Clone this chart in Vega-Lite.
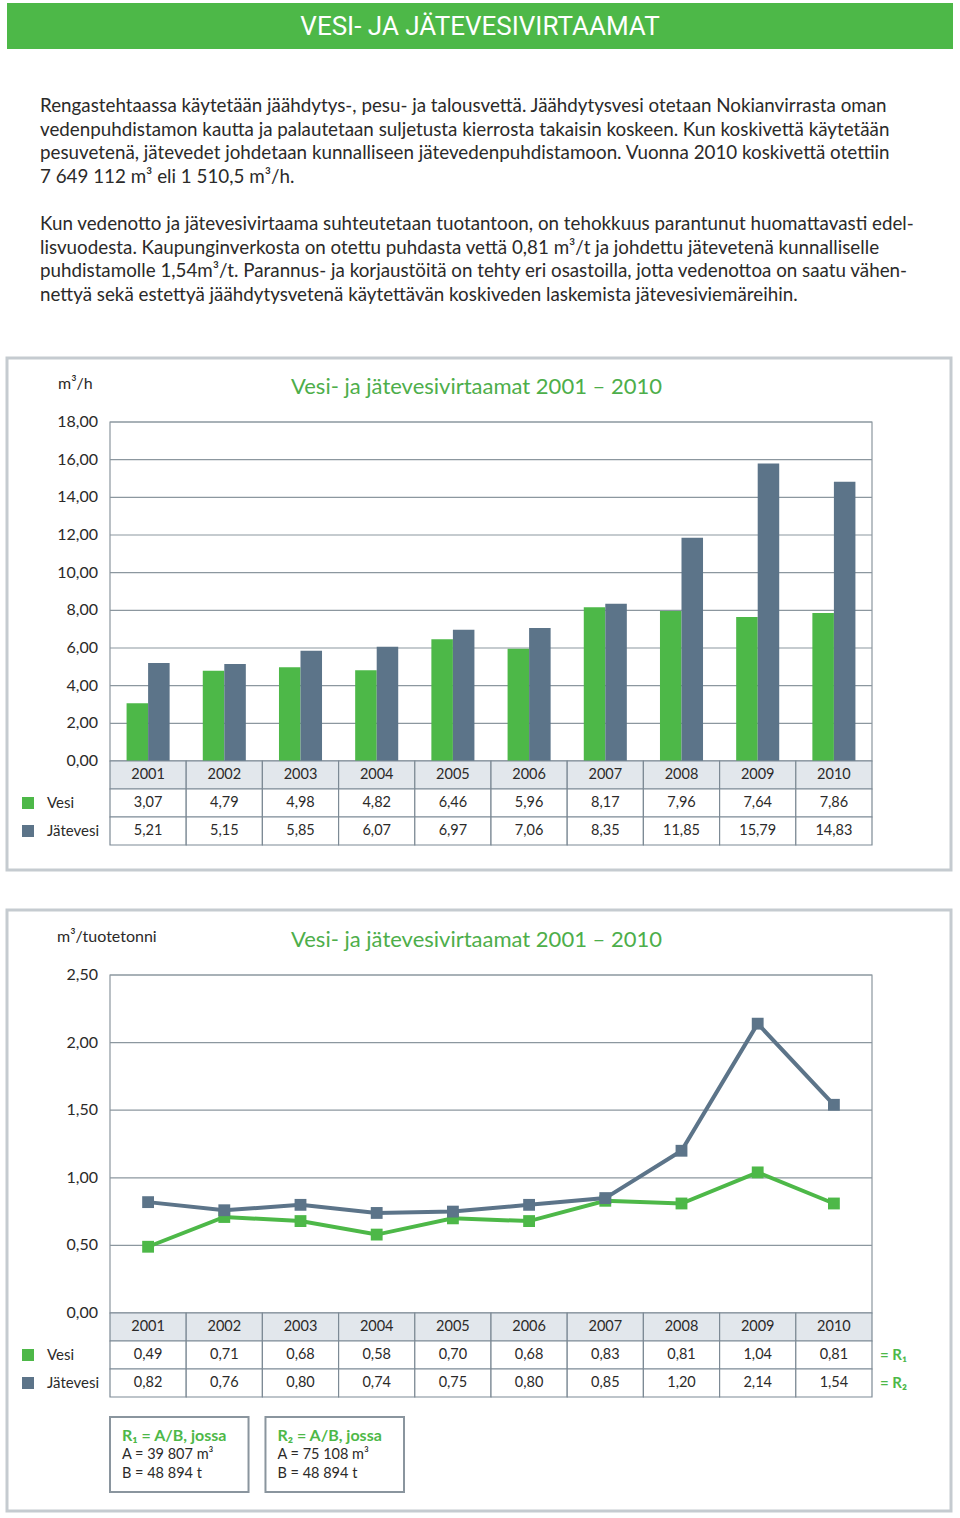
{
  "$schema": "https://vega.github.io/schema/vega-lite/v6.json",
  "padding": {"left": 5, "top": 3, "right": 0, "bottom": 0},
  "spacing": 40,
  "bounds": "flush",
  "config": {
    "view": {"stroke": null},
    "font": "Lato",
    "text": {"color": "#2b2a29", "font": "Lato"},
    "locale": {"number": {"decimal": ",", "thousands": "\u00a0", "grouping": [3], "currency": ["", " €"]}}
  },
  "datasets": {
    "paragraph": [
      {"row": 0, "line": "Rengastehtaassa käytetään jäähdytys-, pesu- ja talousvettä. Jäähdytysvesi otetaan Nokianvirrasta oman"},
      {"row": 1, "line": "vedenpuhdistamon kautta ja palautetaan suljetusta kierrosta takaisin koskeen. Kun koskivettä käytetään"},
      {"row": 2, "line": "pesuvetenä, jätevedet johdetaan kunnalliseen jätevedenpuhdistamoon. Vuonna 2010 koskivettä otettiin"},
      {"row": 3, "line": "7 649 112 m³ eli 1 510,5 m³/h."},
      {"row": 5, "line": "Kun vedenotto ja jätevesivirtaama suhteutetaan tuotantoon, on tehokkuus parantunut huomattavasti edel-"},
      {"row": 6, "line": "lisvuodesta. Kaupunginverkosta on otettu puhdasta vettä 0,81 m³/t ja johdettu jätevetenä kunnalliselle"},
      {"row": 7, "line": "puhdistamolle 1,54m³/t. Parannus- ja korjaustöitä on tehty eri osastoilla, jotta vedenottoa on saatu vähen-"},
      {"row": 8, "line": "nettyä sekä estettyä jäähdytysvetenä käytettävän koskiveden laskemista jätevesiviemäreihin."}
    ],
    "years": [
      {"year": "2001"}, {"year": "2002"}, {"year": "2003"}, {"year": "2004"}, {"year": "2005"},
      {"year": "2006"}, {"year": "2007"}, {"year": "2008"}, {"year": "2009"}, {"year": "2010"}
    ],
    "flow": [
      {"year": "2001", "series": "Vesi", "value": 3.07},
      {"year": "2002", "series": "Vesi", "value": 4.79},
      {"year": "2003", "series": "Vesi", "value": 4.98},
      {"year": "2004", "series": "Vesi", "value": 4.82},
      {"year": "2005", "series": "Vesi", "value": 6.46},
      {"year": "2006", "series": "Vesi", "value": 5.96},
      {"year": "2007", "series": "Vesi", "value": 8.17},
      {"year": "2008", "series": "Vesi", "value": 7.96},
      {"year": "2009", "series": "Vesi", "value": 7.64},
      {"year": "2010", "series": "Vesi", "value": 7.86},
      {"year": "2001", "series": "Jätevesi", "value": 5.21},
      {"year": "2002", "series": "Jätevesi", "value": 5.15},
      {"year": "2003", "series": "Jätevesi", "value": 5.85},
      {"year": "2004", "series": "Jätevesi", "value": 6.07},
      {"year": "2005", "series": "Jätevesi", "value": 6.97},
      {"year": "2006", "series": "Jätevesi", "value": 7.06},
      {"year": "2007", "series": "Jätevesi", "value": 8.35},
      {"year": "2008", "series": "Jätevesi", "value": 11.85},
      {"year": "2009", "series": "Jätevesi", "value": 15.79},
      {"year": "2010", "series": "Jätevesi", "value": 14.83}
    ],
    "ratio": [
      {"year": "2001", "series": "Vesi", "value": 0.49},
      {"year": "2002", "series": "Vesi", "value": 0.71},
      {"year": "2003", "series": "Vesi", "value": 0.68},
      {"year": "2004", "series": "Vesi", "value": 0.58},
      {"year": "2005", "series": "Vesi", "value": 0.70},
      {"year": "2006", "series": "Vesi", "value": 0.68},
      {"year": "2007", "series": "Vesi", "value": 0.83},
      {"year": "2008", "series": "Vesi", "value": 0.81},
      {"year": "2009", "series": "Vesi", "value": 1.04},
      {"year": "2010", "series": "Vesi", "value": 0.81},
      {"year": "2001", "series": "Jätevesi", "value": 0.82},
      {"year": "2002", "series": "Jätevesi", "value": 0.76},
      {"year": "2003", "series": "Jätevesi", "value": 0.80},
      {"year": "2004", "series": "Jätevesi", "value": 0.74},
      {"year": "2005", "series": "Jätevesi", "value": 0.75},
      {"year": "2006", "series": "Jätevesi", "value": 0.80},
      {"year": "2007", "series": "Jätevesi", "value": 0.85},
      {"year": "2008", "series": "Jätevesi", "value": 1.20},
      {"year": "2009", "series": "Jätevesi", "value": 2.14},
      {"year": "2010", "series": "Jätevesi", "value": 1.54}
    ],
    "ticks1": [{"t": 0}, {"t": 2}, {"t": 4}, {"t": 6}, {"t": 8}, {"t": 10}, {"t": 12}, {"t": 14}, {"t": 16}, {"t": 18}],
    "ticks2": [{"t": 0}, {"t": 0.5}, {"t": 1}, {"t": 1.5}, {"t": 2}, {"t": 2.5}],
    "legend": [{"series": "Vesi", "ratio": "= R₁"}, {"series": "Jätevesi", "ratio": "= R₂"}],
    "formula": [
      {"id": "R1", "head": "R₁ = A/B, jossa", "a": "A = 39 807 m³", "b": "B = 48 894 t"},
      {"id": "R2", "head": "R₂ = A/B, jossa", "a": "A = 75 108 m³", "b": "B = 48 894 t"}
    ]
  },
  "vconcat": [
    {
      "width": 946,
      "height": 46,
      "view": {"fill": "#4db848", "stroke": null},
      "data": {"values": [{"title": "VESI- JA JÄTEVESIVIRTAAMAT"}]},
      "mark": {"type": "text", "color": "white", "fontSize": 26, "font": "Roboto", "align": "center", "baseline": "middle"},
      "encoding": {"text": {"field": "title"}, "x": {"value": 473}, "y": {"value": 24}}
    },
    {
      "width": 946,
      "height": 229,
      "data": {"name": "paragraph"},
      "mark": {"type": "text", "align": "left", "baseline": "middle", "fontSize": 18.8},
      "encoding": {
        "y": {"field": "row", "type": "quantitative", "scale": {"domain": [0, 8], "range": [17, 206], "nice": false, "zero": false}, "axis": null},
        "x": {"value": 33},
        "text": {"field": "line"}
      }
    },
    {
      "width": 944,
      "height": 512,
      "view": {"stroke": "#c5cbd0", "strokeWidth": 3},
      "resolve": {"scale": {"x": "independent", "y": "independent"}},
      "layer": [
        {
          "data": {"name": "ticks1"},
          "mark": {"type": "rule", "color": "#8c979f", "strokeWidth": 1.2},
          "encoding": {
            "y": {"field": "t", "type": "quantitative", "scale": {"domain": [0, 18], "range": [403, 64], "nice": false, "zero": false}, "axis": null},
            "x": {"value": 103}, "x2": {"value": 865}
          }
        },
        {
          "data": {"values": [{}]},
          "mark": {"type": "rect", "fillOpacity": 0, "stroke": "#8c979f", "strokeWidth": 1.2},
          "encoding": {"x": {"value": 103}, "x2": {"value": 865}, "y": {"value": 64}, "y2": {"value": 403}}
        },
        {
          "data": {"name": "ticks1"},
          "mark": {"type": "text", "align": "right", "baseline": "middle", "fontSize": 16},
          "encoding": {
            "y": {"field": "t", "type": "quantitative", "scale": {"domain": [0, 18], "range": [403, 64], "nice": false, "zero": false}, "axis": null},
            "x": {"value": 91},
            "text": {"field": "t", "type": "quantitative", "format": ".2f"}
          }
        },
        {
          "data": {"name": "flow"},
          "mark": {"type": "bar"},
          "encoding": {
            "x": {"field": "year", "type": "nominal", "scale": {"type": "band", "domain": ["2001","2002","2003","2004","2005","2006","2007","2008","2009","2010"], "range": [103, 865], "paddingInner": 0, "paddingOuter": 0}, "axis": null},
            "xOffset": {"field": "series", "type": "nominal", "scale": {"domain": ["Vesi", "Jätevesi"], "paddingInner": 0, "paddingOuter": 0.77}},
            "y": {"field": "value", "type": "quantitative", "scale": {"domain": [0, 18], "range": [403, 64], "nice": false, "zero": false}, "axis": null},
            "color": {"field": "series", "type": "nominal", "scale": {"domain": ["Vesi", "Jätevesi"], "range": ["#4db848", "#5c7489"]}, "legend": null}
          }
        },
        {
          "data": {"name": "years"},
          "mark": {"type": "rect", "fill": "#e2e7ec", "stroke": "#7d8a95", "strokeWidth": 1.2},
          "encoding": {
            "x": {"field": "year", "type": "nominal", "scale": {"type": "band", "domain": ["2001","2002","2003","2004","2005","2006","2007","2008","2009","2010"], "range": [103, 865], "paddingInner": 0, "paddingOuter": 0}, "axis": null},
            "y": {"datum": "hdr", "type": "nominal", "scale": {"type": "band", "domain": ["hdr", "Vesi", "Jätevesi"], "range": [403, 487], "paddingInner": 0, "paddingOuter": 0}, "axis": null}
          }
        },
        {
          "data": {"name": "flow"},
          "mark": {"type": "rect", "fill": "white", "stroke": "#7d8a95", "strokeWidth": 1.2},
          "encoding": {
            "x": {"field": "year", "type": "nominal", "scale": {"type": "band", "domain": ["2001","2002","2003","2004","2005","2006","2007","2008","2009","2010"], "range": [103, 865], "paddingInner": 0, "paddingOuter": 0}, "axis": null},
            "y": {"field": "series", "type": "nominal", "scale": {"type": "band", "domain": ["hdr", "Vesi", "Jätevesi"], "range": [403, 487], "paddingInner": 0, "paddingOuter": 0}, "axis": null}
          }
        },
        {
          "data": {"name": "years"},
          "mark": {"type": "text", "align": "center", "baseline": "middle", "fontSize": 14.5},
          "encoding": {
            "x": {"field": "year", "type": "nominal", "scale": {"type": "band", "domain": ["2001","2002","2003","2004","2005","2006","2007","2008","2009","2010"], "range": [103, 865], "paddingInner": 0, "paddingOuter": 0}, "axis": null},
            "y": {"datum": "hdr", "type": "nominal", "scale": {"type": "band", "domain": ["hdr", "Vesi", "Jätevesi"], "range": [403, 487], "paddingInner": 0, "paddingOuter": 0}, "axis": null},
            "text": {"field": "year"}
          }
        },
        {
          "data": {"name": "flow"},
          "mark": {"type": "text", "align": "center", "baseline": "middle", "fontSize": 14.5},
          "encoding": {
            "x": {"field": "year", "type": "nominal", "scale": {"type": "band", "domain": ["2001","2002","2003","2004","2005","2006","2007","2008","2009","2010"], "range": [103, 865], "paddingInner": 0, "paddingOuter": 0}, "axis": null},
            "y": {"field": "series", "type": "nominal", "scale": {"type": "band", "domain": ["hdr", "Vesi", "Jätevesi"], "range": [403, 487], "paddingInner": 0, "paddingOuter": 0}, "axis": null},
            "text": {"field": "value", "type": "quantitative", "format": ".2f"}
          }
        },
        {
          "data": {"name": "legend"},
          "mark": {"type": "point", "shape": "square", "filled": true, "size": 144, "opacity": 1},
          "encoding": {
            "x": {"value": 21},
            "y": {"field": "series", "type": "nominal", "scale": {"type": "band", "domain": ["hdr", "Vesi", "Jätevesi"], "range": [403, 487], "paddingInner": 0, "paddingOuter": 0}, "axis": null},
            "color": {"field": "series", "type": "nominal", "scale": {"domain": ["Vesi", "Jätevesi"], "range": ["#4db848", "#5c7489"]}, "legend": null}
          }
        },
        {
          "data": {"name": "legend"},
          "mark": {"type": "text", "align": "left", "baseline": "middle", "fontSize": 15},
          "encoding": {
            "x": {"value": 40},
            "y": {"field": "series", "type": "nominal", "scale": {"type": "band", "domain": ["hdr", "Vesi", "Jätevesi"], "range": [403, 487], "paddingInner": 0, "paddingOuter": 0}, "axis": null},
            "text": {"field": "series"}
          }
        },
        {
          "data": {"values": [{"label": "m³/h"}]},
          "mark": {"type": "text", "align": "left", "baseline": "middle", "fontSize": 16},
          "encoding": {"x": {"value": 51}, "y": {"value": 26}, "text": {"field": "label"}}
        },
        {
          "data": {"values": [{"label": "Vesi- ja jätevesivirtaamat 2001 – 2010"}]},
          "mark": {"type": "text", "align": "left", "baseline": "middle", "fontSize": 22, "color": "#4dae4a"},
          "encoding": {"x": {"value": 284}, "y": {"value": 29}, "text": {"field": "label"}}
        }
      ]
    },
    {
      "width": 944,
      "height": 601,
      "view": {"stroke": "#c5cbd0", "strokeWidth": 3},
      "resolve": {"scale": {"x": "independent", "y": "independent"}},
      "layer": [
        {
          "data": {"name": "ticks2"},
          "mark": {"type": "rule", "color": "#8c979f", "strokeWidth": 1.2},
          "encoding": {
            "y": {"field": "t", "type": "quantitative", "scale": {"domain": [0, 2.5], "range": [403, 65], "nice": false, "zero": false}, "axis": null},
            "x": {"value": 103}, "x2": {"value": 865}
          }
        },
        {
          "data": {"values": [{}]},
          "mark": {"type": "rect", "fillOpacity": 0, "stroke": "#8c979f", "strokeWidth": 1.2},
          "encoding": {"x": {"value": 103}, "x2": {"value": 865}, "y": {"value": 65}, "y2": {"value": 403}}
        },
        {
          "data": {"name": "ticks2"},
          "mark": {"type": "text", "align": "right", "baseline": "middle", "fontSize": 16},
          "encoding": {
            "y": {"field": "t", "type": "quantitative", "scale": {"domain": [0, 2.5], "range": [403, 65], "nice": false, "zero": false}, "axis": null},
            "x": {"value": 91},
            "text": {"field": "t", "type": "quantitative", "format": ".2f"}
          }
        },
        {
          "data": {"name": "ratio"},
          "transform": [{"filter": "datum.series === 'Vesi'"}],
          "mark": {"type": "line", "strokeWidth": 4},
          "encoding": {
            "x": {"field": "year", "type": "nominal", "scale": {"type": "band", "domain": ["2001","2002","2003","2004","2005","2006","2007","2008","2009","2010"], "range": [103, 865], "paddingInner": 0, "paddingOuter": 0}, "axis": null},
            "y": {"field": "value", "type": "quantitative", "scale": {"domain": [0, 2.5], "range": [403, 65], "nice": false, "zero": false}, "axis": null},
            "color": {"field": "series", "type": "nominal", "scale": {"domain": ["Vesi", "Jätevesi"], "range": ["#4db848", "#5c7489"]}, "legend": null}
          }
        },
        {
          "data": {"name": "ratio"},
          "transform": [{"filter": "datum.series === 'Vesi'"}],
          "mark": {"type": "point", "shape": "square", "filled": true, "size": 140, "opacity": 1},
          "encoding": {
            "x": {"field": "year", "type": "nominal", "scale": {"type": "band", "domain": ["2001","2002","2003","2004","2005","2006","2007","2008","2009","2010"], "range": [103, 865], "paddingInner": 0, "paddingOuter": 0}, "axis": null},
            "y": {"field": "value", "type": "quantitative", "scale": {"domain": [0, 2.5], "range": [403, 65], "nice": false, "zero": false}, "axis": null},
            "color": {"field": "series", "type": "nominal", "scale": {"domain": ["Vesi", "Jätevesi"], "range": ["#4db848", "#5c7489"]}, "legend": null}
          }
        },
        {
          "data": {"name": "ratio"},
          "transform": [{"filter": "datum.series === 'Jätevesi'"}],
          "mark": {"type": "line", "strokeWidth": 4},
          "encoding": {
            "x": {"field": "year", "type": "nominal", "scale": {"type": "band", "domain": ["2001","2002","2003","2004","2005","2006","2007","2008","2009","2010"], "range": [103, 865], "paddingInner": 0, "paddingOuter": 0}, "axis": null},
            "y": {"field": "value", "type": "quantitative", "scale": {"domain": [0, 2.5], "range": [403, 65], "nice": false, "zero": false}, "axis": null},
            "color": {"field": "series", "type": "nominal", "scale": {"domain": ["Vesi", "Jätevesi"], "range": ["#4db848", "#5c7489"]}, "legend": null}
          }
        },
        {
          "data": {"name": "ratio"},
          "transform": [{"filter": "datum.series === 'Jätevesi'"}],
          "mark": {"type": "point", "shape": "square", "filled": true, "size": 140, "opacity": 1},
          "encoding": {
            "x": {"field": "year", "type": "nominal", "scale": {"type": "band", "domain": ["2001","2002","2003","2004","2005","2006","2007","2008","2009","2010"], "range": [103, 865], "paddingInner": 0, "paddingOuter": 0}, "axis": null},
            "y": {"field": "value", "type": "quantitative", "scale": {"domain": [0, 2.5], "range": [403, 65], "nice": false, "zero": false}, "axis": null},
            "color": {"field": "series", "type": "nominal", "scale": {"domain": ["Vesi", "Jätevesi"], "range": ["#4db848", "#5c7489"]}, "legend": null}
          }
        },
        {
          "data": {"name": "years"},
          "mark": {"type": "rect", "fill": "#e2e7ec", "stroke": "#7d8a95", "strokeWidth": 1.2},
          "encoding": {
            "x": {"field": "year", "type": "nominal", "scale": {"type": "band", "domain": ["2001","2002","2003","2004","2005","2006","2007","2008","2009","2010"], "range": [103, 865], "paddingInner": 0, "paddingOuter": 0}, "axis": null},
            "y": {"datum": "hdr", "type": "nominal", "scale": {"type": "band", "domain": ["hdr", "Vesi", "Jätevesi"], "range": [403, 487], "paddingInner": 0, "paddingOuter": 0}, "axis": null}
          }
        },
        {
          "data": {"name": "ratio"},
          "mark": {"type": "rect", "fill": "white", "stroke": "#7d8a95", "strokeWidth": 1.2},
          "encoding": {
            "x": {"field": "year", "type": "nominal", "scale": {"type": "band", "domain": ["2001","2002","2003","2004","2005","2006","2007","2008","2009","2010"], "range": [103, 865], "paddingInner": 0, "paddingOuter": 0}, "axis": null},
            "y": {"field": "series", "type": "nominal", "scale": {"type": "band", "domain": ["hdr", "Vesi", "Jätevesi"], "range": [403, 487], "paddingInner": 0, "paddingOuter": 0}, "axis": null}
          }
        },
        {
          "data": {"name": "years"},
          "mark": {"type": "text", "align": "center", "baseline": "middle", "fontSize": 14.5},
          "encoding": {
            "x": {"field": "year", "type": "nominal", "scale": {"type": "band", "domain": ["2001","2002","2003","2004","2005","2006","2007","2008","2009","2010"], "range": [103, 865], "paddingInner": 0, "paddingOuter": 0}, "axis": null},
            "y": {"datum": "hdr", "type": "nominal", "scale": {"type": "band", "domain": ["hdr", "Vesi", "Jätevesi"], "range": [403, 487], "paddingInner": 0, "paddingOuter": 0}, "axis": null},
            "text": {"field": "year"}
          }
        },
        {
          "data": {"name": "ratio"},
          "mark": {"type": "text", "align": "center", "baseline": "middle", "fontSize": 14.5},
          "encoding": {
            "x": {"field": "year", "type": "nominal", "scale": {"type": "band", "domain": ["2001","2002","2003","2004","2005","2006","2007","2008","2009","2010"], "range": [103, 865], "paddingInner": 0, "paddingOuter": 0}, "axis": null},
            "y": {"field": "series", "type": "nominal", "scale": {"type": "band", "domain": ["hdr", "Vesi", "Jätevesi"], "range": [403, 487], "paddingInner": 0, "paddingOuter": 0}, "axis": null},
            "text": {"field": "value", "type": "quantitative", "format": ".2f"}
          }
        },
        {
          "data": {"name": "legend"},
          "mark": {"type": "point", "shape": "square", "filled": true, "size": 144, "opacity": 1},
          "encoding": {
            "x": {"value": 21},
            "y": {"field": "series", "type": "nominal", "scale": {"type": "band", "domain": ["hdr", "Vesi", "Jätevesi"], "range": [403, 487], "paddingInner": 0, "paddingOuter": 0}, "axis": null},
            "color": {"field": "series", "type": "nominal", "scale": {"domain": ["Vesi", "Jätevesi"], "range": ["#4db848", "#5c7489"]}, "legend": null}
          }
        },
        {
          "data": {"name": "legend"},
          "mark": {"type": "text", "align": "left", "baseline": "middle", "fontSize": 15},
          "encoding": {
            "x": {"value": 40},
            "y": {"field": "series", "type": "nominal", "scale": {"type": "band", "domain": ["hdr", "Vesi", "Jätevesi"], "range": [403, 487], "paddingInner": 0, "paddingOuter": 0}, "axis": null},
            "text": {"field": "series"}
          }
        },
        {
          "data": {"name": "legend"},
          "mark": {"type": "text", "align": "left", "baseline": "middle", "fontSize": 15, "fontWeight": "bold", "color": "#4db848"},
          "encoding": {
            "x": {"value": 873},
            "y": {"field": "series", "type": "nominal", "scale": {"type": "band", "domain": ["hdr", "Vesi", "Jätevesi"], "range": [403, 487], "paddingInner": 0, "paddingOuter": 0}, "axis": null},
            "text": {"field": "ratio"}
          }
        },
        {
          "data": {"name": "formula"},
          "mark": {"type": "rect", "fill": "white", "stroke": "#8a959e", "strokeWidth": 2},
          "encoding": {
            "x": {"field": "id", "type": "nominal", "scale": {"type": "band", "domain": ["R1", "R2"], "range": [103, 397], "paddingInner": 0.109, "paddingOuter": 0}, "axis": null},
            "y": {"value": 507}, "y2": {"value": 582}
          }
        },
        {
          "data": {"name": "formula"},
          "mark": {"type": "text", "align": "left", "baseline": "middle", "fontSize": 16, "fontWeight": "bold", "color": "#4db848", "dx": 12},
          "encoding": {
            "x": {"field": "id", "type": "nominal", "bandPosition": 0, "scale": {"type": "band", "domain": ["R1", "R2"], "range": [103, 397], "paddingInner": 0.109, "paddingOuter": 0}, "axis": null},
            "y": {"value": 526},
            "text": {"field": "head"}
          }
        },
        {
          "data": {"name": "formula"},
          "mark": {"type": "text", "align": "left", "baseline": "middle", "fontSize": 14.5, "dx": 12},
          "encoding": {
            "x": {"field": "id", "type": "nominal", "bandPosition": 0, "scale": {"type": "band", "domain": ["R1", "R2"], "range": [103, 397], "paddingInner": 0.109, "paddingOuter": 0}, "axis": null},
            "y": {"value": 545},
            "text": {"field": "a"}
          }
        },
        {
          "data": {"name": "formula"},
          "mark": {"type": "text", "align": "left", "baseline": "middle", "fontSize": 14.5, "dx": 12},
          "encoding": {
            "x": {"field": "id", "type": "nominal", "bandPosition": 0, "scale": {"type": "band", "domain": ["R1", "R2"], "range": [103, 397], "paddingInner": 0.109, "paddingOuter": 0}, "axis": null},
            "y": {"value": 564},
            "text": {"field": "b"}
          }
        },
        {
          "data": {"values": [{"label": "m³/tuotetonni"}]},
          "mark": {"type": "text", "align": "left", "baseline": "middle", "fontSize": 16},
          "encoding": {"x": {"value": 50}, "y": {"value": 27}, "text": {"field": "label"}}
        },
        {
          "data": {"values": [{"label": "Vesi- ja jätevesivirtaamat 2001 – 2010"}]},
          "mark": {"type": "text", "align": "left", "baseline": "middle", "fontSize": 22, "color": "#4dae4a"},
          "encoding": {"x": {"value": 284}, "y": {"value": 30}, "text": {"field": "label"}}
        }
      ]
    }
  ]
}
